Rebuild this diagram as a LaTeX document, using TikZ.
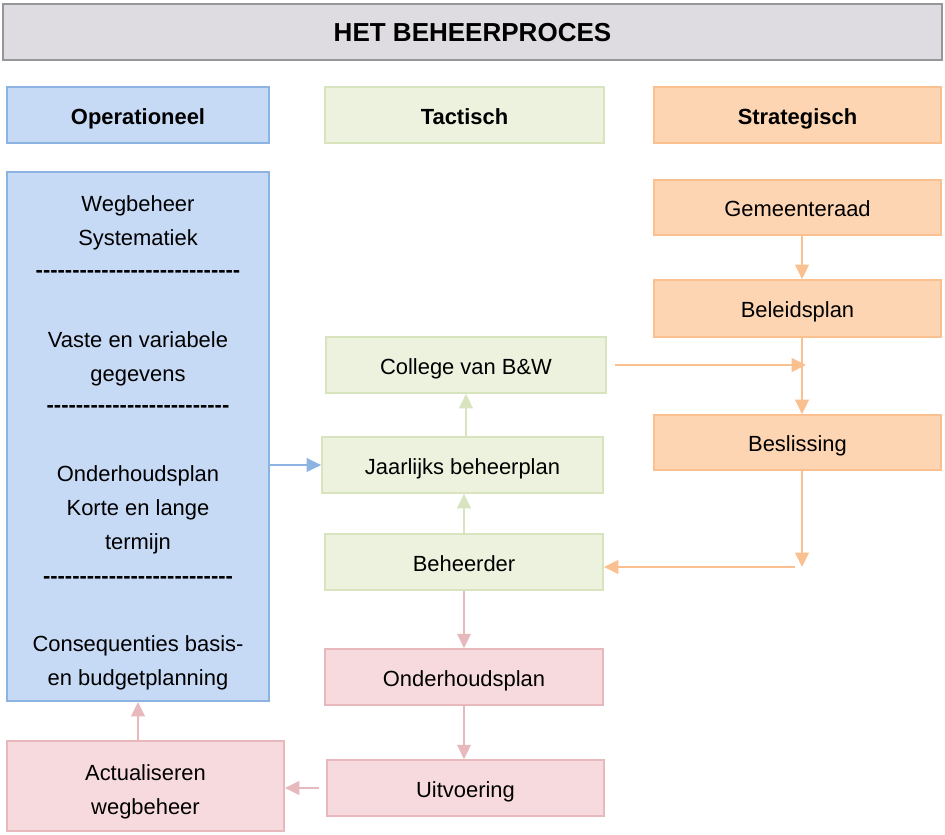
\documentclass[tikz,border=0pt]{standalone}
\usepackage{fontspec}
\setmainfont{Liberation Sans}
\usetikzlibrary{arrows.meta}

\definecolor{titlefill}{RGB}{222,220,224}
\definecolor{titleline}{RGB}{150,150,150}
\definecolor{opfill}{RGB}{198,217,245}
\definecolor{opline}{RGB}{141,179,226}
\definecolor{tacfill}{RGB}{237,242,222}
\definecolor{tacline}{RGB}{215,228,189}
\definecolor{strfill}{RGB}{253,213,178}
\definecolor{strline}{RGB}{250,192,143}
\definecolor{exfill}{RGB}{247,218,221}
\definecolor{exline}{RGB}{232,185,188}

\newcommand{\bodysize}{\fontsize{15.6}{24}\selectfont}
\newcommand{\dashrow}[1]{\bfseries\count255=0 \loop-{}\advance\count255 by 1 \ifnum\count255<#1\repeat}

\tikzset{
  box/.style={draw, rectangle, line width=1.2pt, minimum height=1.4cm, font=\bodysize, align=center},
  single/.style={box, text height=13pt, text depth=0pt},
  head/.style={single, font=\bodysize\bfseries},
  opbox/.style={fill=opfill, draw=opline},
  tacbox/.style={fill=tacfill, draw=tacline},
  strbox/.style={fill=strfill, draw=strline},
  exbox/.style={fill=exfill, draw=exline},
  optext/.style={font=\bodysize, align=center, inner sep=0pt}
}

\begin{document}
\begin{tikzpicture}[x=0.025cm, y=-0.025cm, >={Triangle[length=0.36cm, width=0.34cm]}, line width=1.5pt]
        \useasboundingbox (0,0) rectangle (945,834);

        % kop
        \node (title) [single, fill=titlefill, draw=titleline, minimum width=23.475cm, text height=14pt, font=\fontsize{18.5}{22}\selectfont\bfseries] at (472.5,32) {HET BEHEERPROCES};
        \node (ophead) [head, opbox, minimum width=6.55cm] at (138,115) {Operationeel};
        \node (tachead) [head, tacbox, minimum width=6.975cm] at (464.5,115) {Tactisch};
        \node (strhead) [head, strbox, minimum width=7.175cm] at (797.5,115) {Strategisch};

        % operationeel
        \node (opblock) [box, opbox, minimum width=6.55cm, minimum height=13.225cm] at (138,436.5) {};
        \node (wegsys) [optext] at (138,223) {Wegbeheer\\Systematiek};
        \node (dash1) [optext] at (138,274) {\dashrow{28}};
        \node (vaste) [optext] at (138,358.5) {Vaste en variabele\\gegevens};
        \node (dash2) [optext] at (138,409) {\dashrow{25}};
        \node (ohtermijn) [optext] at (138,510) {Onderhoudsplan\\Korte en lange\\termijn};
        \node (dash3) [optext] at (138,580) {\dashrow{26}};
        \node (conseq) [optext] at (138,663) {Consequenties basis-\\en budgetplanning};
        \node (actual) [box, exbox, minimum width=6.925cm, minimum height=2.25cm] at (145.5,786) {};
        \node (actualtext) [optext] at (145.5,792) {Actualiseren\\wegbeheer};

        % tactisch
        \node (college) [single, tacbox, minimum width=7cm] at (466,365) {College van B\&W};
        \node (jaarplan) [single, tacbox, minimum width=7.025cm] at (462.5,465) {Jaarlijks beheerplan};
        \node (beheerder) [single, tacbox, minimum width=6.95cm] at (464,562) {Beheerder};
        \node (ohplan) [single, exbox, minimum width=6.95cm] at (464,677) {Onderhoudsplan};
        \node (uitvoering) [single, exbox, minimum width=6.925cm] at (465.5,788) {Uitvoering};

        % strategisch
        \node (raad) [single, strbox, minimum width=7.175cm, minimum height=1.375cm] at (797.5,207.5) {Gemeenteraad};
        \node (beleid) [single, strbox, minimum width=7.175cm, minimum height=1.425cm] at (797.5,308.5) {Beleidsplan};
        \node (beslis) [single, strbox, minimum width=7.175cm, minimum height=1.375cm] at (797.5,442.5) {Beslissing};
        \coordinate (sline) at (802,0);
        \coordinate (turn) at (sline |- 0,567);

        \draw[->, strline] (raad.south -| sline) -- (beleid.north -| sline);
        \draw[->, strline] (beleid.south -| sline) -- (beslis.north -| sline);
        \draw[->, strline, shorten <=0.2cm] (college.east) -- ([xshift=0.1cm]college.east -| sline);
        \draw[->, strline] (beslis.south -| sline) -- (turn);
        \draw[->, strline] ([xshift=-0.18cm]turn) -- (turn -| beheerder.east);

        \draw[->, opline] (opblock.east |- jaarplan.west) -- (jaarplan.west);
        \draw[->, tacline] (jaarplan.north -| college.south) -- (college.south);
        \draw[->, tacline] (beheerder.north) -- (jaarplan.south -| beheerder.north);

        \draw[->, exline] (beheerder) -- (ohplan);
        \draw[->, exline] (ohplan) -- (uitvoering.north -| ohplan.south);
        \draw[->, exline, shorten <=0.18cm] (uitvoering.west) -- (uitvoering.west -| actual.east);
        \draw[->, exline] (actual.north -| opblock.south) -- (opblock.south);
    \end{tikzpicture}
\end{document}
